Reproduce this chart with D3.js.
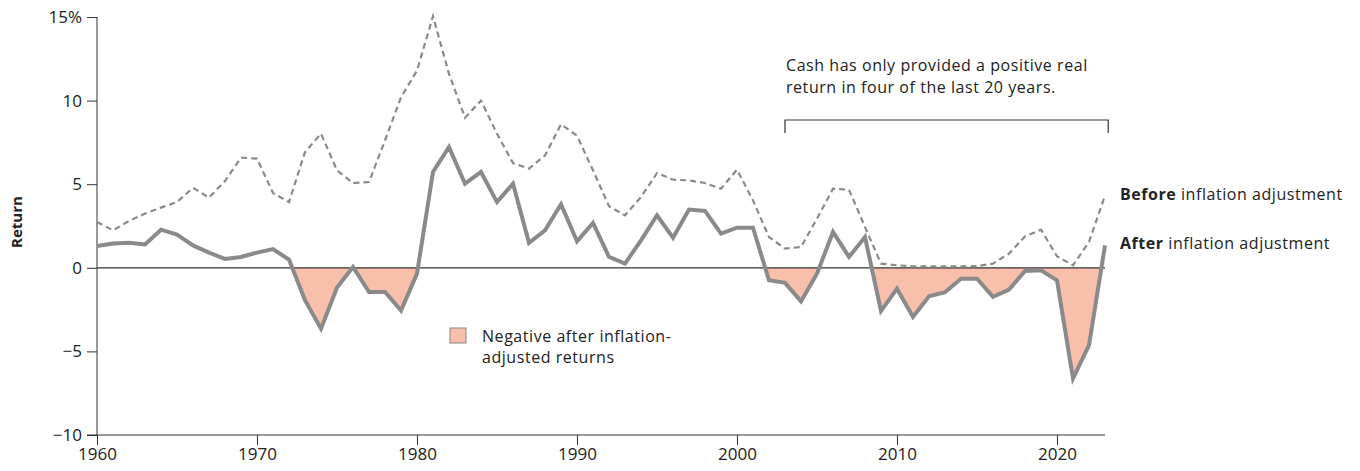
<!DOCTYPE html>
<meta charset="utf-8">
<script src="https://d3js.org/d3.v7.min.js"></script>
<style>
  body { margin: 0; background: #fff; }
  text { font-family: "Open Sans", "Noto Sans", sans-serif; fill: #222; }
  .lbl { font-size: 16px; letter-spacing: 0.55px; }
</style>
<div id="chart"></div>
<script>
// data
var years = d3.range(1960, 2024);
var beforeInflation = [2.74, 2.24, 2.8, 3.24, 3.6, 3.93, 4.79, 4.2, 5.19, 6.59,
  6.53, 4.47, 3.93, 6.92, 8.02, 5.83, 5.07, 5.13, 7.62, 10.2,
  11.8, 15.05, 11.6, 8.98, 10.0, 8.02, 6.26, 5.93, 6.72, 8.58,
  7.9, 5.83, 3.68, 3.14, 4.23, 5.67, 5.27, 5.23, 5.07, 4.73,
  5.87, 4.03, 1.84, 1.15, 1.24, 2.94, 4.73, 4.67, 2.44, 0.25,
  0.15, 0.09, 0.08, 0.08, 0.08, 0.1, 0.25, 0.85, 1.88, 2.28,
  0.69, 0.15, 1.54, 4.33];
var afterInflation = [1.3, 1.45, 1.5, 1.4, 2.28, 1.98, 1.34, 0.91, 0.53, 0.65,
  0.91, 1.12, 0.49, -1.94, -3.64, -1.18, 0.05, -1.45, -1.45, -2.56,
  -0.35, 5.73, 7.22, 5.03, 5.73, 3.93, 5.03, 1.5, 2.24, 3.8,
  1.58, 2.68, 0.65, 0.25, 1.64, 3.14, 1.8, 3.48, 3.4, 2.04,
  2.4, 2.4, -0.75, -0.9, -2.0, -0.35, 2.14, 0.65, 1.84, -2.58,
  -1.25, -2.94, -1.7, -1.46, -0.65, -0.65, -1.74, -1.3, -0.19, -0.15,
  -0.75, -6.62, -4.63, 1.34];
var yTicks = [15, 10, 5, 0, -5, -10];
var xTicks = [1960, 1970, 1980, 1990, 2000, 2010, 2020];

var width = 1360, height = 471;
var svg = d3.select("#chart").append("svg")
  .attr("width", width).attr("height", height);

var x = d3.scaleLinear().domain([1960, 2023]).range([97, 1105]);
var y = d3.scaleLinear().domain([-10, 15]).range([435, 17]);

var before = years.map(function(d, i) { return {year: d, v: beforeInflation[i]}; });
var after = years.map(function(d, i) { return {year: d, v: afterInflation[i]}; });

// y axis
var yAxis = svg.append("g")
  .attr("transform", "translate(97,0)")
  .call(d3.axisLeft(y).tickValues(yTicks).tickSize(10).tickPadding(5)
    .tickFormat(function(d) { return d == 15 ? "15%" : d < 0 ? "\u2212" + Math.abs(d) : d; }));
yAxis.select(".domain").attr("stroke", "#333").attr("d", "M0,17V435");
yAxis.selectAll("line").attr("stroke", "#333");
yAxis.selectAll("text").style("font-size", "17px").attr("fill", "#222");

// x axis
var xAxis = svg.append("g")
  .attr("transform", "translate(0,435)")
  .call(d3.axisBottom(x).tickValues(xTicks).tickSize(10).tickPadding(3).tickFormat(d3.format("d")));
xAxis.select(".domain").attr("stroke", "#333").attr("d", "M87,0H1105");
xAxis.selectAll("line").attr("stroke", "#333");
xAxis.selectAll("text").style("font-size", "17px").attr("fill", "#222");

svg.append("text")
  .attr("transform", "translate(22,222) rotate(-90)")
  .attr("text-anchor", "middle")
  .style("font-size", "15px").style("font-weight", "bold")
  .text("Return");

// shaded negative area, clipped below zero
svg.append("clipPath").attr("id", "below")
  .append("rect")
  .attr("x", x(1960)).attr("y", y(0))
  .attr("width", x(2023) - x(1960)).attr("height", y(-10) - y(0));

svg.append("path")
  .datum(after)
  .attr("clip-path", "url(#below)")
  .attr("fill", "#f8bfab")
  .attr("d", d3.area().x(function(d) { return x(d.year); })
    .y0(y(0)).y1(function(d) { return y(d.v); }));

// zero line
svg.append("line")
  .attr("x1", x(1960)).attr("x2", x(2023))
  .attr("y1", y(0)).attr("y2", y(0))
  .attr("stroke", "#333").attr("stroke-width", 1.2);

var line = d3.line().x(function(d) { return x(d.year); }).y(function(d) { return y(d.v); });

svg.append("path")
  .datum(before)
  .attr("fill", "none")
  .attr("stroke", "#8a8a8a")
  .attr("stroke-width", 2.2)
  .attr("stroke-dasharray", "6,4")
  .attr("d", line);

svg.append("path")
  .datum(after)
  .attr("fill", "none")
  .attr("stroke", "#8a8a8a")
  .attr("stroke-width", 4)
  .attr("stroke-linejoin", "miter")
  .attr("d", line);

// bracket for last 20 years
var bx0 = x(2003), bx1 = x(2023.2), by = 120;
svg.append("path")
  .attr("d", "M" + bx0 + "," + (by + 13) + "V" + by + "H" + bx1 + "V" + (by + 13))
  .attr("fill", "none").attr("stroke", "#333").attr("stroke-width", 1.2);

var note = svg.append("text").attr("class", "lbl").attr("x", bx0).attr("y", 71);
note.append("tspan").attr("x", bx0 + 1).text("Cash has only provided a positive real");
note.append("tspan").attr("x", bx0 + 1).attr("dy", 22).text("return in four of the last 20 years.");

// series labels
var lab1 = svg.append("text").attr("class", "lbl").attr("x", 1120).attr("y", 200);
lab1.append("tspan").style("font-weight", "bold").text("Before");
lab1.append("tspan").text(" inflation adjustment");
var lab2 = svg.append("text").attr("class", "lbl").attr("x", 1120).attr("y", 249);
lab2.append("tspan").style("font-weight", "bold").text("After");
lab2.append("tspan").text(" inflation adjustment");

// legend
svg.append("rect")
  .attr("x", 450).attr("y", 328).attr("width", 16).attr("height", 15)
  .attr("fill", "#f8bfab").attr("stroke", "#888").attr("stroke-width", 1);
var leg = svg.append("text").attr("class", "lbl").attr("x", 482).attr("y", 342);
leg.append("tspan").attr("x", 482).text("Negative after inflation-");
leg.append("tspan").attr("x", 482).attr("dy", 21).text("adjusted returns");
</script>
